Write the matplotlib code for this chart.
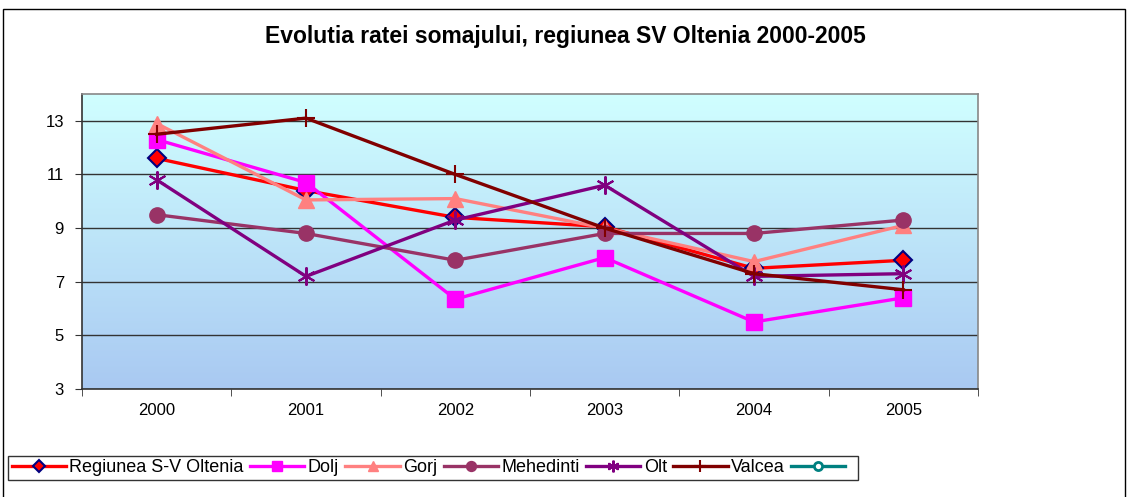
import numpy as np
import matplotlib
matplotlib.use("Agg")
import matplotlib.pyplot as plt
from matplotlib.patches import Rectangle

plt.rcParams['font.family'] = ['Liberation Sans', 'DejaVu Sans']

# Date: rata somajului (%)
ani = ["2000", "2001", "2002", "2003", "2004", "2005"]
regiunea = [11.6, 10.4, 9.4, 9.05, 7.5, 7.8]
dolj = [12.3, 10.7, 6.35, 7.9, 5.5, 6.4]
gorj = [12.9, 10.05, 10.1, 9.0, 7.75, 9.1]
mehedinti = [9.5, 8.8, 7.8, 8.8, 8.8, 9.3]
olt = [10.8, 7.2, 9.3, 10.6, 7.2, 7.3]
valcea = [12.5, 13.1, 11.0, 9.0, 7.3, 6.7]

fig = plt.figure(figsize=(11.3, 4.97), dpi=100)
ax = fig.add_axes([82 / 1130, 1 - 389 / 497, 896 / 1130, 295 / 497])

x = np.arange(len(ani))
ax.set_xlim(-0.5, len(ani) - 0.5)
ax.set_ylim(3, 14)

# fundal cu gradient
grad = np.linspace(0, 1, 256).reshape(-1, 1)
cmap = matplotlib.colors.LinearSegmentedColormap.from_list("bg", ["#A9C9F2", "#D0FFFF"])
ax.imshow(grad, aspect="auto", cmap=cmap, origin="lower",
          extent=(-0.5, len(ani) - 0.5, 3, 14), zorder=0)

for yv in range(3, 14, 2):
    ax.axhline(yv, color="#333333", linewidth=1.0, zorder=1)

lw = 2.4
ax.plot(x, regiunea, color="#FF0000", lw=lw, marker="D", ms=9, mfc="#FF0000",
        mec="#000080", mew=1.5, label="Regiunea S-V Oltenia", zorder=3)
ax.plot(x, dolj, color="#FF00FF", lw=lw, marker="s", ms=11, mfc="#FF00FF",
        mec="#FF00FF", label="Dolj", zorder=3)
ax.plot(x, gorj, color="#FF8080", lw=lw, marker="^", ms=12, mfc="#FF8080",
        mec="#FF8080", label="Gorj", zorder=3)
ax.plot(x, mehedinti, color="#993366", lw=lw, marker="o", ms=11, mfc="#993366",
        mec="#993366", label="Mehedinti", zorder=3)
ax.plot(x, olt, color="#800080", lw=lw, marker=(6, 2, 0), ms=13, mfc="#800080",
        mec="#800080", mew=1.5, label="Olt", zorder=3)
ax.plot(x, valcea, color="#800000", lw=lw, marker="+", ms=13, mec="#800000",
        mew=1.5, label="Valcea", zorder=3)
ax.plot([], [], color="#008080", lw=lw, marker="o", ms=9, mfc="white",
        mec="#008080", mew=2, label=" ")

ax.set_yticks(range(3, 14, 2))
ax.set_xticks(x)
ax.set_xticklabels(ani)
ax.set_xticks(np.arange(-0.5, len(ani)), minor=True)
ax.tick_params(axis="x", which="major", length=0, pad=10, labelsize=12)
ax.tick_params(axis="x", which="minor", length=5, color="#333333")
ax.tick_params(axis="y", length=5, labelsize=12, color="#333333", pad=8)
for s in ["left", "bottom"]:
    ax.spines[s].set_color("#333333")
    ax.spines[s].set_linewidth(1.2)
for s in ["top", "right"]:
    ax.spines[s].set_color("#888888")
    ax.spines[s].set_linewidth(1.2)

fig.text(0.5, 1 - 37 / 497, "Evolutia ratei somajului, regiunea SV Oltenia 2000-2005",
         ha="center", va="center", fontsize=16.5, fontweight="bold")

leg = fig.legend(loc="lower left", bbox_to_anchor=(8 / 1130, 17 / 497), ncol=7,
                 frameon=True, fancybox=False, fontsize=13, handlelength=3.0,
                 columnspacing=0.35, handletextpad=0.2, borderpad=0.2,
                 borderaxespad=0, markerscale=0.65)
leg.get_frame().set_edgecolor("black")
leg.get_frame().set_linewidth(1.0)

# chenarul exterior
fig.patches.append(Rectangle((3 / 1130, -0.1), 1122 / 1130, 1.1 - 9 / 497,
                             transform=fig.transFigure, fill=False,
                             edgecolor="black", linewidth=1.0))

fig.savefig("out.png", dpi=100)
